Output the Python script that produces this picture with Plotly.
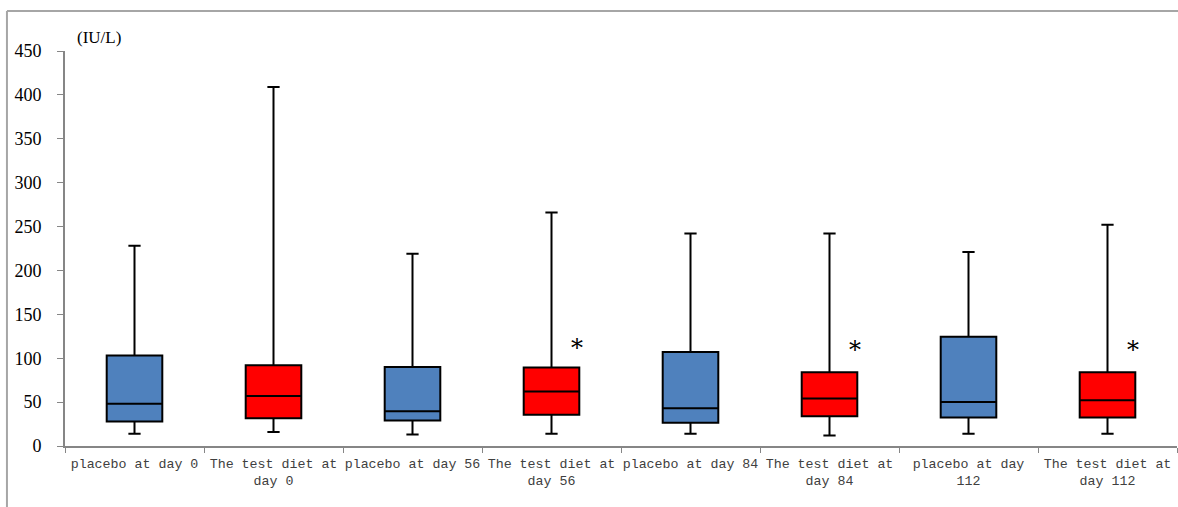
import plotly.graph_objects as go

categories = ["placebo at day 0", "The test diet at<br>day 0",
              "placebo at day 56", "The test diet at<br>day 56",
              "placebo at day 84", "The test diet at<br>day 84",
              "placebo at day<br>112", "The test diet at<br>day 112"]
group = ["placebo", "test", "placebo", "test", "placebo", "test", "placebo", "test"]
lower = [14, 16, 13, 14, 14, 12, 14, 14]
q1 = [28, 31.5, 29, 35.5, 26.5, 34, 32.5, 32.5]
median = [48, 57, 39.5, 62, 43, 54, 50, 52]
q3 = [103, 92, 90, 89.5, 107, 84, 124.5, 84]
upper = [228, 409, 219, 266, 242, 242, 221, 252]
significant = [False, False, False, True, False, True, False, True]
star_y = [None, None, None, 112, None, 109, None, 109]

y_ticks = [0, 50, 100, 150, 200, 250, 300, 350, 400, 450]

colors = {"placebo": "#4f81bd", "test": "#ff0000"}

fig = go.Figure()
for i, c in enumerate(categories):
    fig.add_trace(go.Box(
        x=[c], q1=[q1[i]], median=[median[i]], q3=[q3[i]],
        lowerfence=[lower[i]], upperfence=[upper[i]],
        fillcolor=colors[group[i]],
        line=dict(color="black", width=2),
        width=0.4, whiskerwidth=0.22,
        boxpoints=False, showlegend=False, hoverinfo="skip",
    ))

for i, c in enumerate(categories):
    if significant[i]:
        fig.add_annotation(x=c, y=star_y[i], text="*", showarrow=False,
                           xshift=25, font=dict(family="DejaVu Serif", size=24, color="black"))

fig.add_annotation(xref="paper", yref="paper", x=0.009, y=1.0, yanchor="bottom",
                   xanchor="left", text="(IU/L)", showarrow=False, yshift=2,
                   font=dict(family="Liberation Serif", size=17, color="black"))

# outer frame lines
fig.add_shape(type="line", xref="paper", yref="paper", x0=-0.0522, x1=-0.0522,
              y0=-0.3, y1=1.1013, line=dict(color="#a6a6a6", width=2))
fig.add_shape(type="line", xref="paper", yref="paper", x0=-0.0522, x1=1.01,
              y0=1.1013, y1=1.1013, line=dict(color="#a6a6a6", width=2))

fig.update_layout(
    width=1178, height=507,
    margin=dict(l=65, r=1, t=51, b=61),
    plot_bgcolor="white", paper_bgcolor="white",
    xaxis=dict(type="category", categoryorder="array", categoryarray=categories,
               range=[-0.5, 7.5],
               tickson="boundaries", ticks="outside", ticklen=5, tickcolor="#868686",
               showline=True, linecolor="#868686", linewidth=2, showgrid=False,
               tickangle=0, automargin=False, ticklabelstandoff=4,
               tickfont=dict(family="Liberation Mono", size=13.3, color="#404040")),
    yaxis=dict(range=[0, 450], tickvals=y_ticks, ticks="outside", ticklen=6,
               tickcolor="#868686", showline=True, linecolor="#868686", linewidth=2,
               showgrid=False, zeroline=False, automargin=False, ticklabelstandoff=12,
               tickfont=dict(family="Liberation Serif", size=18, color="black")),
)

fig.write_html("out.html")
